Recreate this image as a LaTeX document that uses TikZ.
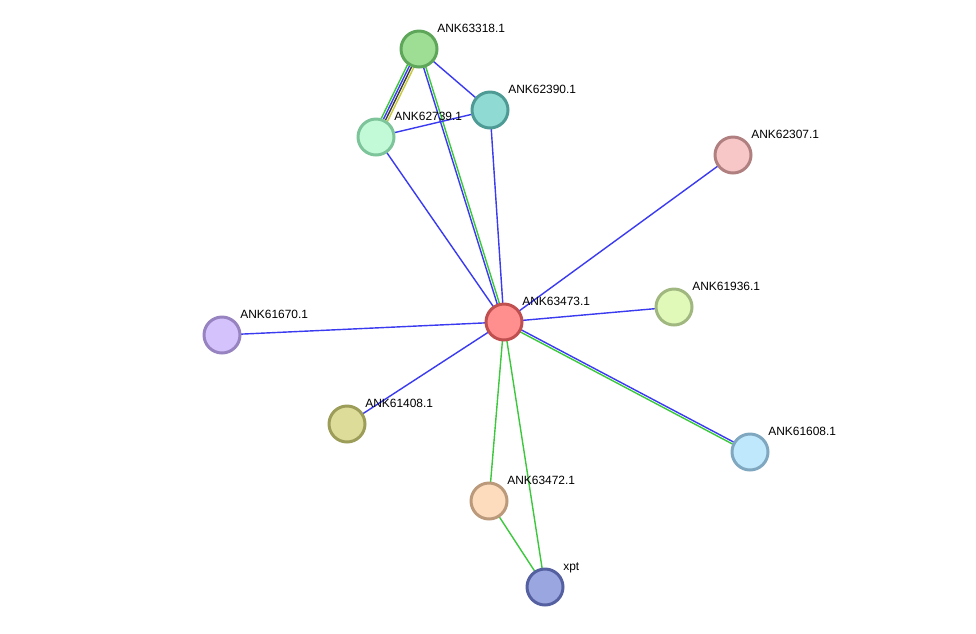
\documentclass[tikz,border=0pt]{standalone}
\usepackage{fontspec}
\setmainfont{Liberation Sans}
\usetikzlibrary{calc,backgrounds}
\definecolor{edgeblue}{HTML}{3A3AF0}
\definecolor{edgegreen}{HTML}{3CC83C}
\definecolor{edgedark}{HTML}{3A3A3A}
\definecolor{edgeyellow}{HTML}{C8C83C}
\begin{document}
\begin{tikzpicture}[x=0.02cm, y=-0.02cm,
        protein/.style={circle, minimum size=0.72cm, line width=1.7pt, inner sep=0pt},
        every node/.style={font=\fontsize{6.8}{8}\selectfont},
        link/.style={line width=0.8pt}]
    \useasboundingbox (0,0) rectangle (976,633);
    \foreach \id/\name/\x/\y/\fc/\dc in {
            n63318/ANK63318.1/419/49/9EDD94/5EA65A,
            n62390/ANK62390.1/490/110/90DAD4/4E9A94,
            n62739/ANK62739.1/376/137/C2FAD8/7DC49A,
            n62307/ANK62307.1/733/155/F7C6C6/B07F7F,
            n63473/ANK63473.1/504/322/FF8F8F/C05050,
            n61936/ANK61936.1/674/307/E0F8B8/A0B880,
            n61670/ANK61670.1/222/335/D4C2FC/9683C0,
            n61408/ANK61408.1/347/424/DDDD99/9D9D5A,
            n61608/ANK61608.1/750/452/C0E8FC/7FA8C0,
            n63472/ANK63472.1/489/501/FCDCBC/BB9A7C,
            xpt/xpt/545/587/9AA6E0/5560A0} {
        \definecolor{fillc}{HTML}{\fc}
        \definecolor{drawc}{HTML}{\dc}
        \node[protein, fill=fillc, draw=drawc] (\id) at (\x,\y) {};
        \node[anchor=base west, inner sep=0pt] (\id-label) at ($(\id)+(18,-16.5)$) {\name};
    }
    \begin{scope}[on background layer]
        \foreach \a/\b/\off/\col in {
                n63318/n62739/-1.95pt/edgegreen, n63318/n62739/-0.65pt/edgeblue,
                n63318/n62739/0.65pt/edgedark, n63318/n62739/1.95pt/edgeyellow,
                n63318/n63473/-0.65pt/edgeblue, n63318/n63473/0.65pt/edgegreen,
                n63473/n61608/0.65pt/edgeblue, n63473/n61608/-0.65pt/edgegreen,
                n63318/n62390/0pt/edgeblue, n62739/n62390/0pt/edgeblue,
                n62739/n63473/0pt/edgeblue, n62390/n63473/0pt/edgeblue,
                n62307/n63473/0pt/edgeblue, n63473/n61936/0pt/edgeblue,
                n63473/n61670/0pt/edgeblue, n63473/n61408/0pt/edgeblue,
                n63473/n63472/0pt/edgegreen, n63473/xpt/0pt/edgegreen,
                n63472/xpt/0pt/edgegreen}
            \draw[link, \col] ($(\a.center)!\off!90:(\b.center)$) -- ($(\b.center)!\off!-90:(\a.center)$);
    \end{scope}
\end{tikzpicture}
\end{document}
